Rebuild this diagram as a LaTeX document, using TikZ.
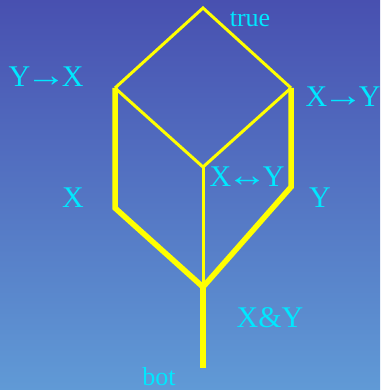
\documentclass[tikz,border=0pt]{standalone}
\usepackage{fontspec}
\usepackage{graphicx}
\setmainfont{Liberation Serif}
\definecolor{bgtop}{RGB}{72,80,176}
\definecolor{bgbot}{RGB}{96,154,214}
\definecolor{lattice}{RGB}{255,255,0}
\definecolor{labelcyan}{RGB}{0,232,255}
% 矢印記号（横に伸ばす）
\newcommand{\ArrR}{\kern-4.5pt\scalebox{1.35}[1.1]{→}\kern-4.5pt}
\newcommand{\ArrLR}{\kern-4.5pt\scalebox{1.35}[1.1]{↔}\kern-4.5pt}
\begin{document}
\begin{tikzpicture}[
        x=1pt,
        y=1pt,
        thinedge/.style={line width=3pt, lattice},
        thickedge/.style={line width=5.5pt, lattice},
        every node/.style={labelcyan, inner sep=0pt, anchor=base, font=\fontsize{30}{34}\selectfont}
      ]

      % --- 1. 背景（グラデーション） ---
      \shade[top color=bgtop, bottom color=bgbot] (0, 0) rectangle (380, 390);
      \useasboundingbox (0, 0) rectangle (380, 390);

      % --- 2. 束の頂点 ---
      \coordinate (top) at (203, 382);
      \coordinate (yx)  at (115, 302);
      \coordinate (xy)  at (291, 302);
      \coordinate (iff) at (203, 223);
      \coordinate (x)   at (115, 182);
      \coordinate (y)   at (291, 203);
      \coordinate (and) at (203, 103);
      \coordinate (bot) at (203, 22);

      % --- 3. 細い辺 ---
      \draw[thinedge] (yx) -- (top) -- (xy);
      \draw[thinedge] (yx) -- (iff) -- (xy);
      \draw[thinedge] (iff) -- (and);

      % --- 4. 太い辺 ---
      \draw[thickedge] (yx) -- (x) -- (and);
      \draw[thickedge] (xy) -- (y) -- (and);
      \draw[thickedge] (and) -- (bot);

      % --- 5. ラベル ---
      \node (Ltop) at (250, 363) {\fontsize{26}{30}\selectfont true};
      \node (Lyx)  at (46, 303)  {Y\ArrR X};
      \node (Lxy)  at (343, 283) {X\ArrR Y};
      \node (Liff) at (247, 203) {X\ArrLR Y};
      \node (Lx)   at (73, 182)  {X};
      \node (Ly)   at (320, 182) {Y};
      \node (Land) at (270, 62)  {X\&Y};
      \node (Lbot) at (159, 5)   {\fontsize{26}{30}\selectfont bot};

    \end{tikzpicture}
\end{document}
